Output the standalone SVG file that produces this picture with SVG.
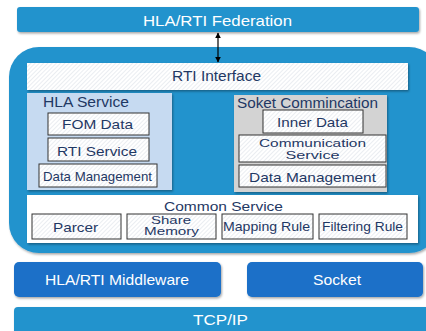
<svg xmlns="http://www.w3.org/2000/svg" width="426" height="331" viewBox="0 0 426 331">
<defs>
<pattern id="hatch" width="3" height="3" patternUnits="userSpaceOnUse" patternTransform="rotate(45)">
<rect width="3" height="3" fill="#ffffff"/>
<line x1="0" y1="0" x2="0" y2="3" stroke="#d6dbe3" stroke-width="1"/>
</pattern>
<filter id="sh" x="-10%" y="-10%" width="120%" height="130%">
<feDropShadow dx="1" dy="1.5" stdDeviation="1" flood-color="#000" flood-opacity="0.35"/>
</filter>
<marker id="ah" viewBox="0 0 10 10" refX="9" refY="5" markerWidth="5" markerHeight="5" orient="auto-start-reverse">
<path d="M0,0 L10,5 L0,10 z" fill="#000"/>
</marker>
</defs>
<style>
text{font-family:"Liberation Sans",Arial,sans-serif;}
.w{fill:#ffffff;font-size:15px;text-anchor:middle;}
.d{fill:#1f3864;font-size:13.5px;text-anchor:middle;}
.s14{font-size:14px;}
.s13{font-size:13px;}
.s11{font-size:11px;}
.box{fill:url(#hatch);stroke:#333333;stroke-width:1;}
.blue{fill:#2393cd;}
.dark{fill:#1a70c8;}
</style>
<rect width="426" height="331" fill="#ffffff"/>
<g id="federation">
<rect x="17" y="7" width="402" height="25" rx="3" class="blue" filter="url(#sh)"/>
<text x="217.5" y="25.5" class="w" textLength="149" lengthAdjust="spacingAndGlyphs">HLA/RTI Federation</text>
</g>
<g id="container">
<rect x="9" y="47" width="430" height="206" rx="30" class="blue" filter="url(#sh)"/>
</g>
<g id="rti-interface">
<rect x="27" y="63" width="381" height="27" fill="url(#hatch)" filter="url(#sh)"/>
<text x="216.5" y="81" class="d s14" textLength="89" lengthAdjust="spacingAndGlyphs">RTI Interface</text>
</g>
<g id="hla-service">
<rect x="27" y="93" width="145" height="97" fill="#c6daf1" filter="url(#sh)"/>
<text x="86" y="106.5" class="d s14" textLength="86" lengthAdjust="spacingAndGlyphs">HLA Service</text>
<g id="fom-data"><rect x="48" y="113" width="101" height="22" class="box"/><text x="97.5" y="129.3" class="d" textLength="71" lengthAdjust="spacingAndGlyphs">FOM Data</text></g>
<g id="rti-service"><rect x="48" y="138" width="101" height="23" class="box"/><text x="97" y="155.5" class="d" textLength="80" lengthAdjust="spacingAndGlyphs">RTI Service</text></g>
<g id="hla-data-mgmt"><rect x="39" y="164" width="118" height="23" class="box"/><text x="97.5" y="180.5" class="d s13" textLength="109" lengthAdjust="spacingAndGlyphs">Data Management</text></g>
</g>
<g id="soket">
<rect x="234" y="95" width="153" height="97" fill="#d3d3d3" filter="url(#sh)"/>
<text x="307.5" y="108" class="d s14" textLength="141" lengthAdjust="spacingAndGlyphs">Soket Commincation</text>
<g id="inner-data"><rect x="263" y="110" width="100" height="23" class="box"/><text x="312.5" y="126.7" class="d" textLength="71" lengthAdjust="spacingAndGlyphs">Inner Data</text></g>
<g id="comm-service"><rect x="239" y="135" width="147" height="27" class="box"/><text x="312.5" y="146.5" class="d s11" textLength="107" lengthAdjust="spacingAndGlyphs">Communication</text><text x="312.5" y="158.5" class="d s11" textLength="54" lengthAdjust="spacingAndGlyphs">Service</text></g>
<g id="sock-data-mgmt"><rect x="239" y="165" width="147" height="22" class="box"/><text x="312.5" y="182" class="d" textLength="127" lengthAdjust="spacingAndGlyphs">Data Management</text></g>
</g>
<g id="common-service">
<rect x="27" y="195" width="391" height="48" fill="#ffffff" filter="url(#sh)"/>
<text x="223.5" y="211.3" class="d" textLength="119" lengthAdjust="spacingAndGlyphs">Common Service</text>
<g id="parcer"><rect x="32" y="214" width="89" height="25" class="box"/><text x="75.5" y="231.5" class="d" textLength="45" lengthAdjust="spacingAndGlyphs">Parcer</text></g>
<g id="share-memory"><rect x="127" y="214" width="89" height="25" class="box"/><text x="171" y="224" class="d s11" textLength="40" lengthAdjust="spacingAndGlyphs">Share</text><text x="171.5" y="235" class="d s11" textLength="55" lengthAdjust="spacingAndGlyphs">Memory</text></g>
<g id="mapping-rule"><rect x="222" y="214" width="91" height="25" class="box"/><text x="266.5" y="230.5" class="d s13" textLength="87" lengthAdjust="spacingAndGlyphs">Mapping Rule</text></g>
<g id="filtering-rule"><rect x="319" y="214" width="88" height="25" class="box"/><text x="362.5" y="230.5" class="d s13" textLength="81" lengthAdjust="spacingAndGlyphs">Filtering Rule</text></g>
</g>
<g id="middleware">
<rect x="14" y="262" width="207" height="35" rx="5" class="dark" filter="url(#sh)"/>
<text x="117" y="284.5" class="w" textLength="144" lengthAdjust="spacingAndGlyphs">HLA/RTI Middleware</text>
</g>
<g id="socket">
<rect x="247" y="262" width="176" height="35" rx="5" class="dark" filter="url(#sh)"/>
<text x="337" y="284.5" class="w" textLength="48" lengthAdjust="spacingAndGlyphs">Socket</text>
</g>
<g id="tcpip">
<rect x="14" y="307" width="420" height="30" rx="4" class="blue" filter="url(#sh)"/>
<text x="220.5" y="325" class="w" textLength="55" lengthAdjust="spacingAndGlyphs">TCP/IP</text>
</g>
<g id="connectors">
<line x1="218" y1="33" x2="218" y2="62" stroke="#000" stroke-width="1.2" marker-start="url(#ah)" marker-end="url(#ah)"/>
</g>
</svg>
